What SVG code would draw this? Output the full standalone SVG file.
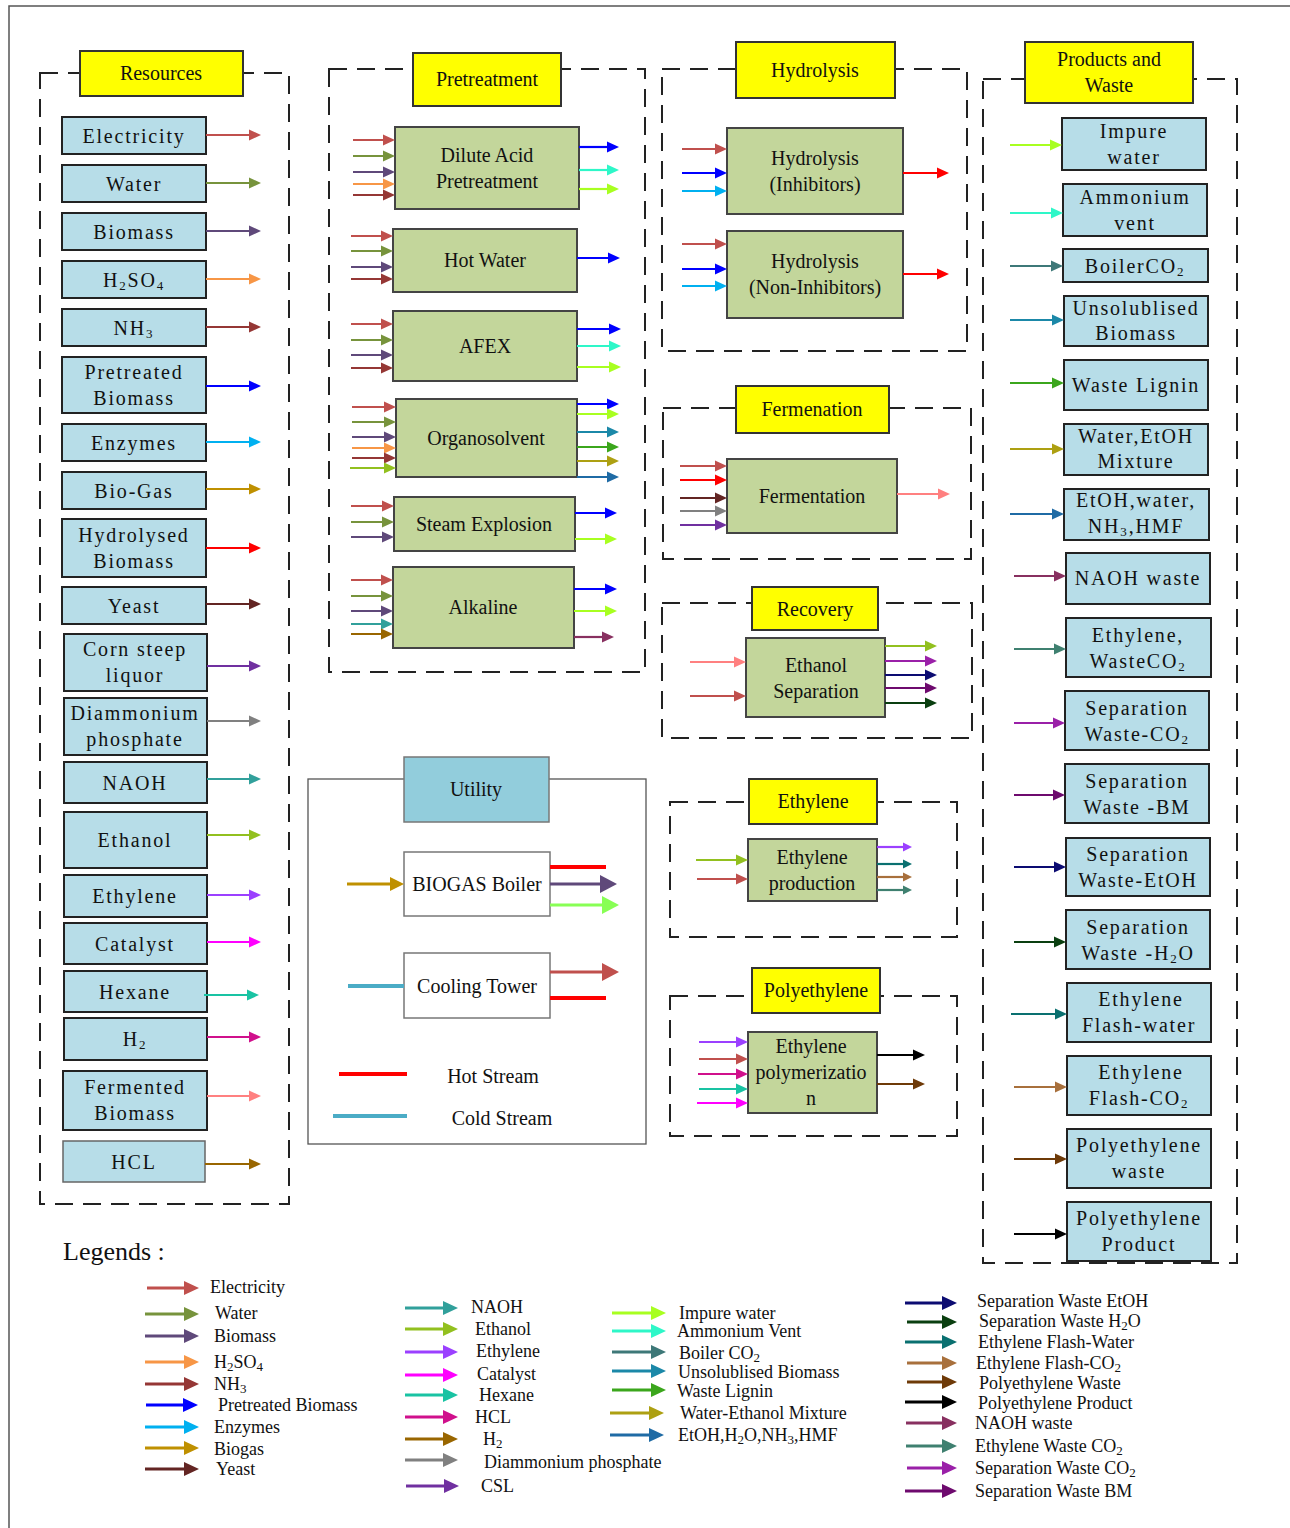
<svg xmlns="http://www.w3.org/2000/svg" xmlns:xlink="http://www.w3.org/1999/xlink" width="1290" height="1528" viewBox="0 0 1290 1528">
<style>
text{font-family:"Liberation Serif","Times New Roman",serif;fill:#111}
.t{font-size:20px;text-anchor:middle;dominant-baseline:central}
.ls{letter-spacing:1.8px}
.lg{font-size:18px;dominant-baseline:central}
.sub{font-size:13px}
.frame{fill:none;stroke:#222;stroke-width:2;stroke-dasharray:18 10}
.ttl rect{fill:#FFFF00;stroke:#333;stroke-width:2}
.res rect{fill:#B7DDE8;stroke:#222;stroke-width:2}
.proc rect{fill:#C3D69B;stroke:#444;stroke-width:2}
.ut rect{fill:#FFFFFF;stroke:#777;stroke-width:1.5}
.cn path{fill:none;stroke:currentColor;stroke-width:2.2}
.cn .w3 path{stroke-width:3}
.cn .w4 path{stroke-width:4}
.elec{color:#C0504D}.wat{color:#77933C}.bio{color:#5F497A}.h2so4{color:#F79646}.nh3{color:#953735}
.pre{color:#0000FF}.enz{color:#00B0F0}.gas{color:#BF9000}.hyd{color:#FF0000}.yst{color:#632523}
.csl{color:#7030A0}.dap{color:#808080}.naoh{color:#31A09B}.eth{color:#92C01F}.ethy{color:#9B40FF}
.cat{color:#FF00FF}.hex{color:#19C3A3}.h2{color:#D0108C}.ferm{color:#FF8080}.hcl{color:#996600}
.imp{color:#A8FF20}.amm{color:#2EF7C8}.bco2{color:#3E7878}.uns{color:#1B88A8}.lig{color:#3BA61C}
.wem{color:#ADA012}.ewn{color:#1F6BA5}.nw{color:#883060}.ewc{color:#3F8070}.sco2{color:#9A20A8}
.sbm{color:#6E0A6E}.seth{color:#0C0C72}.sh2o{color:#0A3F10}.efw{color:#0A7070}.efc{color:#A8703C}
.pw{color:#6E3A08}.pp{color:#000000}.lime{color:#88FF55}.cold{color:#4BACC6}
</style>
<defs>
<path id="h" d="M-12,-5.5L0,0L-12,5.5Z" fill="currentColor"/>
<path id="hs" d="M-9,-4.5L0,0L-9,4.5Z" fill="currentColor"/>
<path id="hm" d="M-14,-7L0,0L-14,7Z" fill="currentColor"/>
<path id="hb" d="M-17,-9L0,0L-17,9Z" fill="currentColor"/>
<path id="hl" d="M-15,-7L0,0L-15,7Z" fill="currentColor"/>
</defs>

<path d="M9 1528V6H1290" fill="none" stroke="#555" stroke-width="1.5"/>

<!-- Frames -->
<g id="frames">
<rect class="frame" x="40" y="73" width="249" height="1131"/>
<rect class="frame" x="329" y="69" width="316" height="603"/>
<rect class="frame" x="662" y="69" width="305" height="282"/>
<rect class="frame" x="663" y="408" width="308" height="151"/>
<rect class="frame" x="662" y="603" width="310" height="135"/>
<rect class="frame" x="670" y="802" width="287" height="135"/>
<rect class="frame" x="670" y="996" width="287" height="140"/>
<rect class="frame" x="983" y="79" width="254" height="1184"/>
<rect x="308" y="779" width="338" height="365" fill="none" stroke="#555" stroke-width="1.3"/>
</g>

<!-- Titles -->
<g id="title-resources" class="ttl"><rect x="80" y="51" width="163" height="45"/><text class="t" x="161" y="73">Resources</text></g>
<g id="title-pretreatment" class="ttl"><rect x="413" y="53" width="148" height="53"/><text class="t" x="487" y="79">Pretreatment</text></g>
<g id="title-hydrolysis" class="ttl"><rect x="736" y="42" width="159" height="56"/><text class="t" x="815" y="70">Hydrolysis</text></g>
<g id="title-fermentation" class="ttl"><rect x="736" y="386" width="153" height="47"/><text class="t" x="812" y="409">Fermenation</text></g>
<g id="title-recovery" class="ttl"><rect x="752" y="587" width="126" height="43"/><text class="t" x="815" y="609">Recovery</text></g>
<g id="title-ethylene" class="ttl"><rect x="749" y="779" width="128" height="45"/><text class="t" x="813" y="801">Ethylene</text></g>
<g id="title-polyethylene" class="ttl"><rect x="752" y="968" width="128" height="45"/><text class="t" x="816" y="990">Polyethylene</text></g>
<g id="title-products" class="ttl"><rect x="1025" y="42" width="168" height="61"/><text class="t" x="1109" y="59">Products and</text><text class="t" x="1109" y="85">Waste</text></g>
<g id="title-utility"><rect x="404" y="757" width="145" height="65" fill="#92CDDC" stroke="#777" stroke-width="1.5"/><text class="t" x="476" y="789">Utility</text></g>

<!-- Resources -->
<g class="res">
<g id="r-electricity"><rect x="62" y="117" width="144" height="37"/><text class="t ls" x="134" y="135.5">Electricity</text></g>
<g id="r-water"><rect x="62" y="165" width="144" height="37"/><text class="t ls" x="134" y="183.5">Water</text></g>
<g id="r-biomass"><rect x="62" y="213" width="144" height="37"/><text class="t ls" x="134" y="231.5">Biomass</text></g>
<g id="r-h2so4"><rect x="62" y="261" width="144" height="37"/><text class="t ls" x="134" y="279.5">H<tspan class="sub" dy="5">2</tspan><tspan dy="-5">SO</tspan><tspan class="sub" dy="5">4</tspan></text></g>
<g id="r-nh3"><rect x="62" y="309" width="144" height="37"/><text class="t ls" x="134" y="327.5">NH<tspan class="sub" dy="5">3</tspan></text></g>
<g id="r-pretreated"><rect x="62" y="357" width="144" height="56"/><text class="t ls" x="134" y="372">Pretreated</text><text class="t ls" x="134" y="398">Biomass</text></g>
<g id="r-enzymes"><rect x="62" y="424" width="144" height="37"/><text class="t ls" x="134" y="442.5">Enzymes</text></g>
<g id="r-biogas"><rect x="62" y="472" width="144" height="37"/><text class="t ls" x="134" y="490.5">Bio-Gas</text></g>
<g id="r-hydrolysed"><rect x="62" y="519" width="144" height="58"/><text class="t ls" x="134" y="535">Hydrolysed</text><text class="t ls" x="134" y="561">Biomass</text></g>
<g id="r-yeast"><rect x="62" y="587" width="144" height="37"/><text class="t ls" x="134" y="605.5">Yeast</text></g>
<g id="r-csl"><rect x="64" y="634" width="143" height="57"/><text class="t ls" x="135" y="649">Corn steep</text><text class="t ls" x="135" y="675">liquor</text></g>
<g id="r-dap"><rect x="64" y="698" width="143" height="57"/><text class="t ls" x="135" y="713">Diammonium</text><text class="t ls" x="135" y="739">phosphate</text></g>
<g id="r-naoh"><rect x="64" y="762" width="143" height="41"/><text class="t ls" x="135" y="782.5">NAOH</text></g>
<g id="r-ethanol"><rect x="64" y="812" width="143" height="56"/><text class="t ls" x="135" y="840">Ethanol</text></g>
<g id="r-ethylene"><rect x="64" y="875" width="143" height="42"/><text class="t ls" x="135" y="896">Ethylene</text></g>
<g id="r-catalyst"><rect x="64" y="923" width="143" height="41"/><text class="t ls" x="135" y="943.5">Catalyst</text></g>
<g id="r-hexane"><rect x="64" y="971" width="143" height="41"/><text class="t ls" x="135" y="991.5">Hexane</text></g>
<g id="r-h2"><rect x="64" y="1018" width="143" height="42"/><text class="t ls" x="135" y="1039">H<tspan class="sub" dy="5">2</tspan></text></g>
<g id="r-fermented"><rect x="63" y="1071" width="144" height="59"/><text class="t ls" x="135" y="1087">Fermented</text><text class="t ls" x="135" y="1113">Biomass</text></g>
<g id="r-hcl"><rect x="63" y="1141" width="142" height="41" style="stroke:#666;stroke-width:1.5"/><text class="t ls" x="134" y="1161.5">HCL</text></g>
</g>

<!-- Process nodes -->
<g class="proc">
<g id="p-dilute"><rect x="395" y="127" width="184" height="82"/><text class="t" x="487" y="155">Dilute Acid</text><text class="t" x="487" y="181">Pretreatment</text></g>
<g id="p-hotwater"><rect x="393" y="229" width="184" height="63"/><text class="t" x="485" y="260">Hot Water</text></g>
<g id="p-afex"><rect x="393" y="311" width="184" height="70"/><text class="t" x="485" y="346">AFEX</text></g>
<g id="p-organo"><rect x="396" y="399" width="181" height="78"/><text class="t" x="486" y="438">Organosolvent</text></g>
<g id="p-steam"><rect x="394" y="497" width="181" height="54"/><text class="t" x="484" y="524">Steam Explosion</text></g>
<g id="p-alkaline"><rect x="393" y="567" width="181" height="81"/><text class="t" x="483" y="607">Alkaline</text></g>
<g id="p-hyd-inh"><rect x="727" y="128" width="176" height="86"/><text class="t" x="815" y="158">Hydrolysis</text><text class="t" x="815" y="184">(Inhibitors)</text></g>
<g id="p-hyd-non"><rect x="727" y="231" width="176" height="87"/><text class="t" x="815" y="261">Hydrolysis</text><text class="t" x="815" y="287">(Non-Inhibitors)</text></g>
<g id="p-ferment"><rect x="727" y="459" width="170" height="74"/><text class="t" x="812" y="496">Fermentation</text></g>
<g id="p-ethsep"><rect x="746" y="638" width="139" height="79"/><text class="t" x="816" y="665">Ethanol</text><text class="t" x="816" y="691">Separation</text></g>
<g id="p-ethprod"><rect x="748" y="839" width="129" height="62"/><text class="t" x="812" y="857">Ethylene</text><text class="t" x="812" y="883">production</text></g>
<g id="p-poly"><rect x="748" y="1032" width="129" height="81"/><text class="t" x="811" y="1046">Ethylene</text><text class="t" x="811" y="1072">polymerizatio</text><text class="t" x="811" y="1098">n</text></g>
</g>

<!-- Utility nodes -->
<g class="ut">
<g id="u-boiler"><rect x="404" y="852" width="146" height="64"/><text class="t" x="477" y="884">BIOGAS Boiler</text></g>
<g id="u-cooling"><rect x="404" y="953" width="146" height="65"/><text class="t" x="477" y="986">Cooling Tower</text></g>
<text class="t" x="493" y="1076">Hot Stream</text>
<text class="t" x="502" y="1118">Cold Stream</text>
</g>

<!-- Products -->
<g class="res">
<g id="o-impure"><rect x="1062" y="118" width="144" height="52"/><text class="t ls" x="1134" y="131">Impure</text><text class="t ls" x="1134" y="157">water</text></g>
<g id="o-ammonium"><rect x="1063" y="184" width="144" height="52"/><text class="t ls" x="1135" y="197">Ammonium</text><text class="t ls" x="1135" y="223">vent</text></g>
<g id="o-boilerco2"><rect x="1063" y="249" width="145" height="33"/><text class="t ls" x="1135" y="265.5">BoilerCO<tspan class="sub" dy="5">2</tspan></text></g>
<g id="o-unsol"><rect x="1064" y="296" width="144" height="50"/><text class="t ls" x="1136" y="308">Unsolublised</text><text class="t ls" x="1136" y="333">Biomass</text></g>
<g id="o-lignin"><rect x="1064" y="360" width="144" height="50"/><text class="t ls" x="1136" y="385">Waste Lignin</text></g>
<g id="o-wem"><rect x="1064" y="424" width="144" height="51"/><text class="t ls" x="1136" y="436">Water,EtOH</text><text class="t ls" x="1136" y="461">Mixture</text></g>
<g id="o-ewn"><rect x="1064" y="489" width="145" height="51"/><text class="t ls" x="1136" y="500">EtOH,water,</text><text class="t ls" x="1136" y="526">NH<tspan class="sub" dy="5">3</tspan><tspan dy="-5">,HMF</tspan></text></g>
<g id="o-naohw"><rect x="1066" y="553" width="144" height="51"/><text class="t ls" x="1138" y="578">NAOH waste</text></g>
<g id="o-ethwco2"><rect x="1066" y="618" width="145" height="59"/><text class="t ls" x="1138" y="635">Ethylene,</text><text class="t ls" x="1138" y="661">WasteCO<tspan class="sub" dy="5">2</tspan></text></g>
<g id="o-sepco2"><rect x="1065" y="691" width="144" height="59"/><text class="t ls" x="1137" y="708">Separation</text><text class="t ls" x="1137" y="734">Waste-CO<tspan class="sub" dy="5">2</tspan></text></g>
<g id="o-sepbm"><rect x="1065" y="764" width="144" height="59"/><text class="t ls" x="1137" y="781">Separation</text><text class="t ls" x="1137" y="807">Waste -BM</text></g>
<g id="o-sepeth"><rect x="1066" y="838" width="144" height="58"/><text class="t ls" x="1138" y="854">Separation</text><text class="t ls" x="1138" y="880">Waste-EtOH</text></g>
<g id="o-seph2o"><rect x="1066" y="910" width="144" height="59"/><text class="t ls" x="1138" y="927">Separation</text><text class="t ls" x="1138" y="953">Waste -H<tspan class="sub" dy="5">2</tspan><tspan dy="-5">O</tspan></text></g>
<g id="o-flashw"><rect x="1067" y="983" width="144" height="59"/><text class="t ls" x="1141" y="999">Ethylene</text><text class="t ls" x="1139" y="1025">Flash-water</text></g>
<g id="o-flashc"><rect x="1067" y="1056" width="144" height="59"/><text class="t ls" x="1141" y="1072">Ethylene</text><text class="t ls" x="1139" y="1098">Flash-CO<tspan class="sub" dy="5">2</tspan></text></g>
<g id="o-polyw"><rect x="1067" y="1129" width="144" height="59"/><text class="t ls" x="1139" y="1145">Polyethylene</text><text class="t ls" x="1139" y="1171">waste</text></g>
<g id="o-polyp"><rect x="1067" y="1202" width="144" height="59"/><text class="t ls" x="1139" y="1218">Polyethylene</text><text class="t ls" x="1139" y="1244">Product</text></g>
</g>

<!-- Connectors -->
<g id="connectors" class="cn">
<!-- resources out -->
<g class="elec"><path d="M206 135H252"/><use href="#h" x="261" y="135"/></g>
<g class="wat"><path d="M206 183H252"/><use href="#h" x="261" y="183"/></g>
<g class="bio"><path d="M206 231H252"/><use href="#h" x="261" y="231"/></g>
<g class="h2so4"><path d="M206 279H252"/><use href="#h" x="261" y="279"/></g>
<g class="nh3"><path d="M206 327H252"/><use href="#h" x="261" y="327"/></g>
<g class="pre"><path d="M206 386H252"/><use href="#h" x="261" y="386"/></g>
<g class="enz"><path d="M206 442H252"/><use href="#h" x="261" y="442"/></g>
<g class="gas"><path d="M206 489H252"/><use href="#h" x="261" y="489"/></g>
<g class="hyd"><path d="M206 548H252"/><use href="#h" x="261" y="548"/></g>
<g class="yst"><path d="M206 604H252"/><use href="#h" x="261" y="604"/></g>
<g class="csl"><path d="M207 666H252"/><use href="#h" x="261" y="666"/></g>
<g class="dap"><path d="M207 721H252"/><use href="#h" x="261" y="721"/></g>
<g class="naoh"><path d="M207 779H252"/><use href="#h" x="261" y="779"/></g>
<g class="eth"><path d="M207 835H252"/><use href="#h" x="261" y="835"/></g>
<g class="ethy"><path d="M207 895H252"/><use href="#h" x="261" y="895"/></g>
<g class="cat"><path d="M207 942H252"/><use href="#h" x="261" y="942"/></g>
<g class="hex"><path d="M204 995H250"/><use href="#h" x="259" y="995"/></g>
<g class="h2"><path d="M207 1037H252"/><use href="#h" x="261" y="1037"/></g>
<g class="ferm"><path d="M207 1096H252"/><use href="#h" x="261" y="1096"/></g>
<g class="hcl"><path d="M205 1164H252"/><use href="#h" x="261" y="1164"/></g>

<!-- dilute acid -->
<g class="elec"><path d="M353 140H386"/><use href="#h" x="395" y="140"/></g>
<g class="wat"><path d="M353 156H386"/><use href="#h" x="395" y="156"/></g>
<g class="bio"><path d="M353 172H386"/><use href="#h" x="395" y="172"/></g>
<g class="h2so4"><path d="M353 184H386"/><use href="#h" x="395" y="184"/></g>
<g class="nh3"><path d="M353 195H386"/><use href="#h" x="395" y="195"/></g>
<g class="pre"><path d="M579 147H610"/><use href="#h" x="619" y="147"/></g>
<g class="amm"><path d="M579 170H610"/><use href="#h" x="619" y="170"/></g>
<g class="imp"><path d="M579 189H610"/><use href="#h" x="619" y="189"/></g>
<!-- hot water -->
<g class="elec"><path d="M351 236H384"/><use href="#h" x="393" y="236"/></g>
<g class="wat"><path d="M351 251H384"/><use href="#h" x="393" y="251"/></g>
<g class="bio"><path d="M351 267H384"/><use href="#h" x="393" y="267"/></g>
<g class="nh3"><path d="M351 279H384"/><use href="#h" x="393" y="279"/></g>
<g class="pre"><path d="M577 258H611"/><use href="#h" x="620" y="258"/></g>
<!-- afex -->
<g class="elec"><path d="M351 324H384"/><use href="#h" x="393" y="324"/></g>
<g class="wat"><path d="M351 340H384"/><use href="#h" x="393" y="340"/></g>
<g class="bio"><path d="M351 355H384"/><use href="#h" x="393" y="355"/></g>
<g class="nh3"><path d="M351 368H384"/><use href="#h" x="393" y="368"/></g>
<g class="pre"><path d="M577 329H612"/><use href="#h" x="621" y="329"/></g>
<g class="amm"><path d="M577 346H612"/><use href="#h" x="621" y="346"/></g>
<g class="imp"><path d="M577 367H612"/><use href="#h" x="621" y="367"/></g>
<!-- organosolvent -->
<g class="elec"><path d="M352 407H387"/><use href="#h" x="396" y="407"/></g>
<g class="wat"><path d="M352 422H387"/><use href="#h" x="396" y="422"/></g>
<g class="bio"><path d="M352 437H387"/><use href="#h" x="396" y="437"/></g>
<g class="h2so4"><path d="M352 448H387"/><use href="#h" x="396" y="448"/></g>
<g class="nh3"><path d="M352 458H387"/><use href="#h" x="396" y="458"/></g>
<g class="eth"><path d="M350 468H387"/><use href="#h" x="396" y="468"/></g>
<g class="pre"><path d="M577 404H610"/><use href="#h" x="619" y="404"/></g>
<g class="imp"><path d="M577 414H610"/><use href="#h" x="619" y="414"/></g>
<g class="uns"><path d="M577 432H610"/><use href="#h" x="619" y="432"/></g>
<g class="lig"><path d="M577 447H610"/><use href="#h" x="619" y="447"/></g>
<g class="wem"><path d="M577 461H610"/><use href="#h" x="619" y="461"/></g>
<g class="ewn"><path d="M577 477H610"/><use href="#h" x="619" y="477"/></g>
<!-- steam explosion -->
<g class="elec"><path d="M351 506H385"/><use href="#h" x="394" y="506"/></g>
<g class="wat"><path d="M351 522H385"/><use href="#h" x="394" y="522"/></g>
<g class="bio"><path d="M351 537H385"/><use href="#h" x="394" y="537"/></g>
<g class="pre"><path d="M575 513H608"/><use href="#h" x="617" y="513"/></g>
<g class="imp"><path d="M575 539H608"/><use href="#h" x="617" y="539"/></g>
<!-- alkaline -->
<g class="elec"><path d="M351 580H384"/><use href="#h" x="393" y="580"/></g>
<g class="wat"><path d="M351 596H384"/><use href="#h" x="393" y="596"/></g>
<g class="bio"><path d="M351 611H384"/><use href="#h" x="393" y="611"/></g>
<g class="naoh"><path d="M351 624H384"/><use href="#h" x="393" y="624"/></g>
<g class="hcl"><path d="M351 634H384"/><use href="#h" x="393" y="634"/></g>
<g class="pre"><path d="M574 589H608"/><use href="#h" x="617" y="589"/></g>
<g class="imp"><path d="M574 611H608"/><use href="#h" x="617" y="611"/></g>
<g class="nw"><path d="M574 637H605"/><use href="#h" x="614" y="637"/></g>

<!-- hydrolysis -->
<g class="elec"><path d="M682 149H718"/><use href="#h" x="727" y="149"/></g>
<g class="pre"><path d="M682 173H718"/><use href="#h" x="727" y="173"/></g>
<g class="enz"><path d="M682 191H718"/><use href="#h" x="727" y="191"/></g>
<g class="hyd"><path d="M903 173H940"/><use href="#h" x="949" y="173"/></g>
<g class="elec"><path d="M682 244H718"/><use href="#h" x="727" y="244"/></g>
<g class="pre"><path d="M682 269H718"/><use href="#h" x="727" y="269"/></g>
<g class="enz"><path d="M682 286H718"/><use href="#h" x="727" y="286"/></g>
<g class="hyd"><path d="M903 274H940"/><use href="#h" x="949" y="274"/></g>

<!-- fermentation -->
<g class="elec"><path d="M680 466H718"/><use href="#h" x="727" y="466"/></g>
<g class="hyd"><path d="M680 480H718"/><use href="#h" x="727" y="480"/></g>
<g class="yst"><path d="M680 498H718"/><use href="#h" x="727" y="498"/></g>
<g class="dap"><path d="M680 511H718"/><use href="#h" x="727" y="511"/></g>
<g class="csl"><path d="M680 525H718"/><use href="#h" x="727" y="525"/></g>
<g class="ferm"><path d="M897 494H941"/><use href="#h" x="950" y="494"/></g>

<!-- recovery -->
<g class="ferm"><path d="M690 662H737"/><use href="#h" x="746" y="662"/></g>
<g class="elec"><path d="M690 696H737"/><use href="#h" x="746" y="696"/></g>
<g class="eth"><path d="M885 646H928"/><use href="#h" x="937" y="646"/></g>
<g class="sco2"><path d="M885 661H928"/><use href="#h" x="937" y="661"/></g>
<g class="seth"><path d="M885 675H928"/><use href="#h" x="937" y="675"/></g>
<g class="sbm"><path d="M885 688H928"/><use href="#h" x="937" y="688"/></g>
<g class="sh2o"><path d="M885 703H928"/><use href="#h" x="937" y="703"/></g>

<!-- ethylene -->
<g class="eth"><path d="M696 860H739"/><use href="#h" x="748" y="860"/></g>
<g class="elec"><path d="M697 879H739"/><use href="#h" x="748" y="879"/></g>
<g class="ethy"><path d="M877 847H905"/><use href="#hs" x="912" y="847"/></g>
<g class="efw"><path d="M877 864H905"/><use href="#hs" x="912" y="864"/></g>
<g class="efc"><path d="M877 877H905"/><use href="#hs" x="912" y="877"/></g>
<g class="ewc"><path d="M877 890H905"/><use href="#hs" x="912" y="890"/></g>

<!-- polyethylene -->
<g class="ethy"><path d="M699 1042H739"/><use href="#h" x="748" y="1042"/></g>
<g class="elec"><path d="M699 1059H739"/><use href="#h" x="748" y="1059"/></g>
<g class="h2"><path d="M698 1074H739"/><use href="#h" x="748" y="1074"/></g>
<g class="hex"><path d="M699 1089H739"/><use href="#h" x="748" y="1089"/></g>
<g class="cat"><path d="M697 1103H739"/><use href="#h" x="748" y="1103"/></g>
<g class="pp"><path d="M877 1055H916"/><use href="#h" x="925" y="1055"/></g>
<g class="pw"><path d="M877 1084H916"/><use href="#h" x="925" y="1084"/></g>

<!-- products in -->
<g class="imp"><path d="M1010 145H1053"/><use href="#h" x="1062" y="145"/></g>
<g class="amm"><path d="M1010 213H1054"/><use href="#h" x="1063" y="213"/></g>
<g class="bco2"><path d="M1010 266H1054"/><use href="#h" x="1063" y="266"/></g>
<g class="uns"><path d="M1010 320H1055"/><use href="#h" x="1064" y="320"/></g>
<g class="lig"><path d="M1010 383H1055"/><use href="#h" x="1064" y="383"/></g>
<g class="wem"><path d="M1010 449H1055"/><use href="#h" x="1064" y="449"/></g>
<g class="ewn"><path d="M1010 514H1055"/><use href="#h" x="1064" y="514"/></g>
<g class="nw"><path d="M1014 576H1057"/><use href="#h" x="1066" y="576"/></g>
<g class="ewc"><path d="M1014 649H1057"/><use href="#h" x="1066" y="649"/></g>
<g class="sco2"><path d="M1014 723H1056"/><use href="#h" x="1065" y="723"/></g>
<g class="sbm"><path d="M1014 795H1056"/><use href="#h" x="1065" y="795"/></g>
<g class="seth"><path d="M1014 867H1057"/><use href="#h" x="1066" y="867"/></g>
<g class="sh2o"><path d="M1014 942H1057"/><use href="#h" x="1066" y="942"/></g>
<g class="efw"><path d="M1011 1014H1058"/><use href="#h" x="1067" y="1014"/></g>
<g class="efc"><path d="M1014 1087H1058"/><use href="#h" x="1067" y="1087"/></g>
<g class="pw"><path d="M1014 1159H1058"/><use href="#h" x="1067" y="1159"/></g>
<g class="pp"><path d="M1014 1234H1058"/><use href="#h" x="1067" y="1234"/></g>

<!-- utility -->
<g class="gas w3"><path d="M347 884H394"/><use href="#hm" x="404" y="884"/></g>
<g class="hyd w4"><path d="M550 867H606"/></g>
<g class="bio w3"><path d="M550 884H604"/><use href="#hb" x="617" y="884"/></g>
<g class="lime w3"><path d="M550 905H606"/><use href="#hb" x="619" y="905"/></g>
<g class="cold w4"><path d="M348 986H404"/></g>
<g class="elec w3"><path d="M550 972H606"/><use href="#hb" x="619" y="972"/></g>
<g class="hyd w4"><path d="M550 998H606"/></g>
<g class="hyd w4"><path d="M339 1074H407"/></g>
<g class="cold w4"><path d="M333 1116H407"/></g>

<!-- legend arrows -->
<g class="elec w3"><path d="M147 1288H188"/><use href="#hl" x="199" y="1288"/></g>
<g class="wat w3"><path d="M145 1314H188"/><use href="#hl" x="199" y="1314"/></g>
<g class="bio w3"><path d="M145 1336H188"/><use href="#hl" x="199" y="1336"/></g>
<g class="h2so4 w3"><path d="M145 1362H188"/><use href="#hl" x="199" y="1362"/></g>
<g class="nh3 w3"><path d="M145 1384H188"/><use href="#hl" x="199" y="1384"/></g>
<g class="pre w3"><path d="M146 1405H187"/><use href="#hl" x="198" y="1405"/></g>
<g class="enz w3"><path d="M145 1427H188"/><use href="#hl" x="199" y="1427"/></g>
<g class="gas w3"><path d="M145 1448H188"/><use href="#hl" x="199" y="1448"/></g>
<g class="yst w3"><path d="M145 1469H188"/><use href="#hl" x="199" y="1469"/></g>

<g class="naoh w3"><path d="M405 1308H447"/><use href="#hl" x="458" y="1308"/></g>
<g class="eth w3"><path d="M405 1329H447"/><use href="#hl" x="458" y="1329"/></g>
<g class="ethy w3"><path d="M405 1352H447"/><use href="#hl" x="458" y="1352"/></g>
<g class="cat w3"><path d="M405 1375H447"/><use href="#hl" x="458" y="1375"/></g>
<g class="hex w3"><path d="M405 1395H447"/><use href="#hl" x="458" y="1395"/></g>
<g class="h2 w3"><path d="M405 1417H447"/><use href="#hl" x="458" y="1417"/></g>
<g class="hcl w3"><path d="M405 1439H447"/><use href="#hl" x="458" y="1439"/></g>
<g class="dap w3"><path d="M405 1460H447"/><use href="#hl" x="458" y="1460"/></g>
<g class="csl w3"><path d="M406 1486H448"/><use href="#hl" x="459" y="1486"/></g>

<g class="imp w3"><path d="M612 1313H655"/><use href="#hl" x="666" y="1313"/></g>
<g class="amm w3"><path d="M612 1331H655"/><use href="#hl" x="666" y="1331"/></g>
<g class="bco2 w3"><path d="M612 1352H655"/><use href="#hl" x="666" y="1352"/></g>
<g class="uns w3"><path d="M612 1371H655"/><use href="#hl" x="666" y="1371"/></g>
<g class="lig w3"><path d="M612 1390H655"/><use href="#hl" x="666" y="1390"/></g>
<g class="wem w3"><path d="M610 1413H653"/><use href="#hl" x="664" y="1413"/></g>
<g class="ewn w3"><path d="M610 1435H653"/><use href="#hl" x="664" y="1435"/></g>

<g class="seth w3"><path d="M905 1303H946"/><use href="#hl" x="957" y="1303"/></g>
<g class="sh2o w3"><path d="M907 1322H946"/><use href="#hl" x="957" y="1322"/></g>
<g class="efw w3"><path d="M905 1342H946"/><use href="#hl" x="957" y="1342"/></g>
<g class="efc w3"><path d="M907 1363H946"/><use href="#hl" x="957" y="1363"/></g>
<g class="pw w3"><path d="M907 1382H946"/><use href="#hl" x="957" y="1382"/></g>
<g class="pp w3"><path d="M905 1402H946"/><use href="#hl" x="957" y="1402"/></g>
<g class="nw w3"><path d="M906 1423H946"/><use href="#hl" x="957" y="1423"/></g>
<g class="ewc w3"><path d="M906 1446H946"/><use href="#hl" x="957" y="1446"/></g>
<g class="sco2 w3"><path d="M907 1468H946"/><use href="#hl" x="957" y="1468"/></g>
<g class="sbm w3"><path d="M905 1491H946"/><use href="#hl" x="957" y="1491"/></g>
</g>

<!-- Legend texts -->
<g id="legend">
<text x="63" y="1260" style="font-size:26px">Legends :</text>
<text class="lg" x="210" y="1287">Electricity</text>
<text class="lg" x="215" y="1313">Water</text>
<text class="lg" x="214" y="1336">Biomass</text>
<text class="lg" x="214" y="1362">H<tspan class="sub" dy="4">2</tspan><tspan dy="-4">SO</tspan><tspan class="sub" dy="4">4</tspan></text>
<text class="lg" x="214" y="1384">NH<tspan class="sub" dy="4">3</tspan></text>
<text class="lg" x="218" y="1405">Pretreated Biomass</text>
<text class="lg" x="214" y="1427">Enzymes</text>
<text class="lg" x="214" y="1449">Biogas</text>
<text class="lg" x="216" y="1469">Yeast</text>

<text class="lg" x="471" y="1307">NAOH</text>
<text class="lg" x="475" y="1329">Ethanol</text>
<text class="lg" x="476" y="1351">Ethylene</text>
<text class="lg" x="477" y="1374">Catalyst</text>
<text class="lg" x="479" y="1395">Hexane</text>
<text class="lg" x="475" y="1417">HCL</text>
<text class="lg" x="483" y="1439">H<tspan class="sub" dy="4">2</tspan></text>
<text class="lg" x="484" y="1462">Diammonium phosphate</text>
<text class="lg" x="481" y="1486">CSL</text>

<text class="lg" x="679" y="1313">Impure water</text>
<text class="lg" x="677" y="1331">Ammonium Vent</text>
<text class="lg" x="679" y="1353">Boiler CO<tspan class="sub" dy="4">2</tspan></text>
<text class="lg" x="678" y="1372">Unsolublised Biomass</text>
<text class="lg" x="677" y="1391">Waste Lignin</text>
<text class="lg" x="680" y="1413">Water-Ethanol Mixture</text>
<text class="lg" x="678" y="1435">EtOH,H<tspan class="sub" dy="4">2</tspan><tspan dy="-4">O,NH</tspan><tspan class="sub" dy="4">3</tspan><tspan dy="-4">,HMF</tspan></text>

<text class="lg" x="977" y="1301">Separation Waste EtOH</text>
<text class="lg" x="979" y="1321">Separation Waste H<tspan class="sub" dy="4">2</tspan><tspan dy="-4">O</tspan></text>
<text class="lg" x="978" y="1342">Ethylene Flash-Water</text>
<text class="lg" x="976" y="1363">Ethylene Flash-CO<tspan class="sub" dy="4">2</tspan></text>
<text class="lg" x="979" y="1383">Polyethylene Waste</text>
<text class="lg" x="978" y="1403">Polyethylene Product</text>
<text class="lg" x="975" y="1423">NAOH waste</text>
<text class="lg" x="975" y="1446">Ethylene Waste CO<tspan class="sub" dy="4">2</tspan></text>
<text class="lg" x="975" y="1468">Separation Waste CO<tspan class="sub" dy="4">2</tspan></text>
<text class="lg" x="975" y="1491">Separation Waste BM</text>
</g>
</svg>
